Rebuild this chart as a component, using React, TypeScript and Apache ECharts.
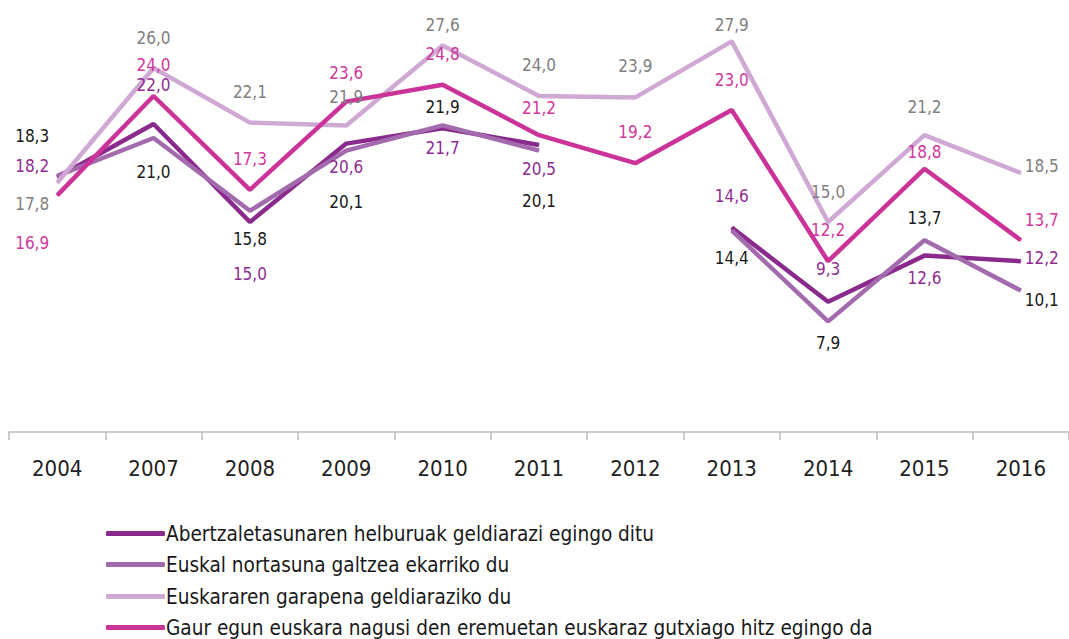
import React, { useEffect, useRef } from "react";
import * as echarts from "echarts";

const years = ["2004", "2007", "2008", "2009", "2010", "2011", "2012", "2013", "2014", "2015", "2016"];
const seriesNames = [
  "Abertzaletasunaren helburuak geldiarazi egingo ditu",
  "Euskal nortasuna galtzea ekarriko du",
  "Euskararen garapena geldiaraziko du",
  "Gaur egun euskara nagusi den eremuetan euskaraz gutxiago hitz egingo da",
];
const abertzale = [18.2, 22.0, 15.0, 20.6, 21.7, 20.5, null, 14.6, 9.3, 12.6, 12.2];
const nortasuna = [18.3, 21.0, 15.8, 20.1, 21.9, 20.1, null, 14.4, 7.9, 13.7, 10.1];
const garapena = [17.8, 26.0, 22.1, 21.9, 27.6, 24.0, 23.9, 27.9, 15.0, 21.2, 18.5];
const gaurEgun = [16.9, 24.0, 17.3, 23.6, 24.8, 21.2, 19.2, 23.0, 12.2, 18.8, 13.7];

// label vertical offsets (px) per point, for layout only
const dyAbertzale = [-11, -39, 52, 23, 20, 24, 0, -32, -33, 22, -3];
const dyNortasuna = [-40, 34, 28, 51, -18, 50, 0, 28, 22, -22, 9];
const dyGarapena = [21, -30, -31, -28, -21, -31, -31, -16, -30, -28, -7];
const dyGaurEgun = [48, -31, -31, -29, -31, -27, -31, -30, -31, -17, -20];
const allDy = [dyAbertzale, dyNortasuna, dyGarapena, dyGaurEgun];

const lineColors = ["#8a2a8c", "#a46aae", "#cfa9d3", "#cc3399"];
const labelColors = ["#8e2d91", "#1a1a1a", "#808080", "#d0389d"];
const legendTops = [518, 549, 581, 612];
const FONT = "'Liberation Sans Narrow', 'DejaVu Sans Condensed', 'Roboto Condensed', sans-serif";

function dxFor(i: number) {
  if (i === 0) return -25;
  if (i === years.length - 1) return 21;
  return 0;
}

export default function App() {
  const ref = useRef<HTMLDivElement>(null);
  useEffect(() => {
    if (!ref.current) return;
    const chart = echarts.init(ref.current, null, { renderer: "svg" });
    const all = [abertzale, nortasuna, garapena, gaurEgun];
    chart.setOption({
      animation: false,
      backgroundColor: "#ffffff",
      grid: { left: 9, top: 12, width: 1069.2, height: 420 },
      legend: seriesNames.map((n, k) => ({
        orient: "vertical",
        left: 101,
        top: legendTops[k],
        itemWidth: 59,
        itemHeight: 5,
        icon: "roundRect",
        selectedMode: false,
        textStyle: { fontFamily: FONT, fontSize: 20.6, color: "#1a1a1a", padding: [0, 0, 0, -4] },
        data: [{ name: n }],
      })),
      xAxis: {
        type: "category",
        data: years,
        boundaryGap: true,
        axisLine: { lineStyle: { color: "#bdbdbd", width: 1.5 } },
        axisTick: { show: true, length: 8, lineStyle: { color: "#bdbdbd", width: 1.5 } },
        axisLabel: { fontFamily: FONT, fontSize: 22, color: "#222222", margin: 25 },
      },
      yAxis: { type: "value", min: 0, max: 30, show: false, splitLine: { show: false } },
      series: all.map((vals, k) => ({
        name: seriesNames[k],
        type: "line",
        data: vals,
        connectNulls: false,
        symbol: "circle",
        symbolSize: 1,
        showSymbol: true,
        lineStyle: { color: lineColors[k], width: 4.5 },
        itemStyle: { color: lineColors[k] },
        label: {
          show: true,
          position: "inside",
          fontFamily: FONT,
          fontSize: 17,
          color: labelColors[k],
          formatter: (p: any) => (p.value == null ? "" : Number(p.value).toFixed(1).replace(".", ",")),
        },
        labelLayout: (p: any) => ({
          dx: dxFor(p.dataIndex),
          dy: allDy[k][p.dataIndex],
          hideOverlap: false,
        }),
        emphasis: { disabled: true },
      })),
    });
    return () => chart.dispose();
  }, []);
  return (
    <div
      ref={ref}
      style={{ position: "fixed", left: 0, top: 0, width: 1069, height: 639, background: "#fff" }}
    />
  );
}
